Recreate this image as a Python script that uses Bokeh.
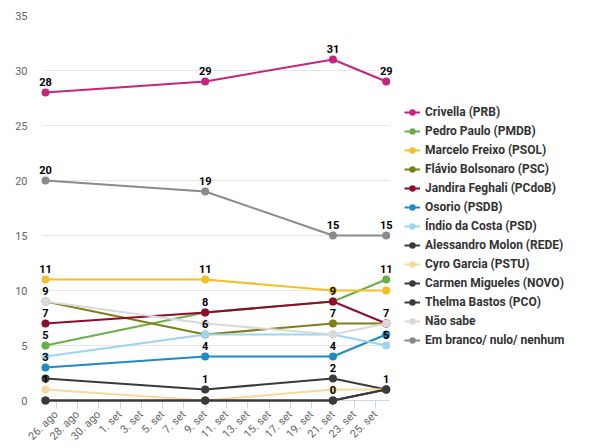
import math
import numpy as np
from bokeh.plotting import figure
from bokeh.models import Range1d, FixedTicker, Legend, LegendItem, ColumnDataSource
from bokeh.core.properties import value
from bokeh.embed import file_html
from bokeh.resources import INLINE

# ---------------- data ----------------
dates = ["2016-08-25", "2016-09-09", "2016-09-21", "2016-09-26"]

names = [
    "Crivella (PRB)", "Pedro Paulo (PMDB)", "Marcelo Freixo (PSOL)",
    "Flávio Bolsonaro (PSC)", "Jandira Feghali (PCdoB)", "Osorio (PSDB)",
    "Índio da Costa (PSD)", "Alessandro Molon (REDE)", "Cyro Garcia (PSTU)",
    "Carmen Migueles (NOVO)", "Thelma Bastos (PCO)", "Não sabe",
    "Em branco/ nulo/ nenhum",
]
crivella = [28, 29, 31, 29]
pedro_paulo = [5, 8, 9, 11]
freixo = [11, 11, 10, 10]
flavio = [9, 6, 7, 7]
jandira = [7, 8, 9, 7]
osorio = [3, 4, 4, 6]
indio = [4, 6, 6, 5]
molon = [2, 1, 2, 1]
cyro = [1, 0, 1, 1]
carmen = [0, 0, 0, 1]
thelma = [0, 0, 0, 1]
nao_sabe = [9, 7, 6, 7]
em_branco = [20, 19, 15, 15]

colors = [
    "#c8247f", "#6aaf46", "#f4c025", "#7f7f16", "#8e0c2c", "#1e8bc3",
    "#9dd4f2", "#3a3a3a", "#f9d99b", "#3a3a3a", "#3a3a3a", "#d9d9d9",
    "#8a8a8a",
]

tick_dates = [
    "2016-08-26", "2016-08-28", "2016-08-30", "2016-09-01", "2016-09-03",
    "2016-09-05", "2016-09-07", "2016-09-09", "2016-09-11", "2016-09-13",
    "2016-09-15", "2016-09-17", "2016-09-19", "2016-09-21", "2016-09-23",
    "2016-09-25",
]
tick_labels = [
    "26. ago", "28. ago", "30. ago", "1. set", "3. set", "5. set", "7. set",
    "9. set", "11. set", "13. set", "15. set", "17. set", "19. set",
    "21. set", "23. set", "25. set",
]
y_ticks = [0, 5, 10, 15, 20, 25, 30, 35]

series = [crivella, pedro_paulo, freixo, flavio, jandira, osorio, indio,
          molon, cyro, carmen, thelma, nao_sabe, em_branco]


def to_ms(d):
    return float((np.datetime64(d) - np.datetime64("1970-01-01")) / np.timedelta64(1, "ms"))


x_ms = [to_ms(d) for d in dates]
tick_ms = [to_ms(d) for d in tick_dates]
DAY = 86400000.0

p = figure(
    frame_width=347, frame_height=385,
    x_axis_type="datetime",
    x_range=Range1d(x_ms[0] - 0.28 * DAY, x_ms[-1] + 0.31 * DAY),
    y_range=Range1d(0, 35),
    output_backend="svg", toolbar_location=None,
    min_border_left=42, min_border_top=15, min_border_bottom=30, min_border_right=0,
)
p.outline_line_color = None
p.background_fill_color = "white"
p.border_fill_color = "white"

# grid
p.xgrid.grid_line_color = None
p.ygrid.ticker = FixedTicker(ticks=y_ticks)
p.ygrid.grid_line_color = "#e6e6e6"
p.ygrid.grid_line_width = 1

# y axis
p.yaxis.ticker = FixedTicker(ticks=y_ticks)
p.yaxis.axis_line_color = None
p.yaxis.major_tick_line_color = None
p.yaxis.minor_tick_line_color = None
p.yaxis.major_label_text_color = "#666666"
p.yaxis.major_label_text_font = "Roboto"
p.yaxis.major_label_text_font_size = "11px"
p.yaxis.major_label_standoff = 9

# x axis
p.xaxis.ticker = FixedTicker(ticks=tick_ms)
p.xaxis.major_label_overrides = {t: l for t, l in zip(tick_ms, tick_labels)}
p.xaxis.major_label_orientation = math.pi / 4
p.xaxis.axis_line_color = "#ccd6eb"
p.xaxis.major_tick_line_color = "#ccd6eb"
p.xaxis.major_tick_in = 0
p.xaxis.major_tick_out = 8
p.xaxis.minor_tick_line_color = None
p.xaxis.major_label_text_color = "#666666"
p.xaxis.major_label_text_font = "Roboto"
p.xaxis.major_label_text_font_size = "11px"
p.xaxis.major_label_standoff = 4

items = []
for name, vals, col in zip(names, series, colors):
    src = ColumnDataSource(dict(x=x_ms, y=vals))
    lr = p.line("x", "y", source=src, line_color=col, line_width=2, level="overlay")
    sr = p.scatter("x", "y", source=src, size=8, fill_color=col, line_color=col,
                   line_width=0, level="overlay")
    items.append(LegendItem(label=name, renderers=[lr, sr]))

# data labels: greedy overlap hiding in series order
lx, ly, lt = [], [], []
for i, xv in enumerate(x_ms):
    shown = []
    for vals in series:
        v = vals[i]
        if all(abs(v - s) >= 1.5 for s in shown):
            shown.append(v)
            lx.append(xv)
            ly.append(v)
            lt.append(str(v))
lsrc = ColumnDataSource(dict(x=lx, y=ly, text=lt))
p.text("x", "y", text="text", source=lsrc, text_font=value("Roboto"),
       text_font_style="bold", text_font_size="11px", text_color="#000000",
       text_align="center", text_baseline="middle", y_offset=-11, level="overlay")

legend = Legend(items=items, location=(15, 52))
legend.border_line_color = None
legend.background_fill_alpha = 0
legend.padding = 16
legend.margin = 0
legend.spacing = 3
legend.label_height = 16
legend.glyph_height = 16
legend.glyph_width = 16
legend.label_standoff = 5
legend.label_text_font = "Roboto"
legend.label_text_font_style = "bold"
legend.label_text_font_size = "12px"
legend.label_text_color = "#333333"
p.add_layout(legend, "right")

open("out.html", "w").write(file_html(p, INLINE))
